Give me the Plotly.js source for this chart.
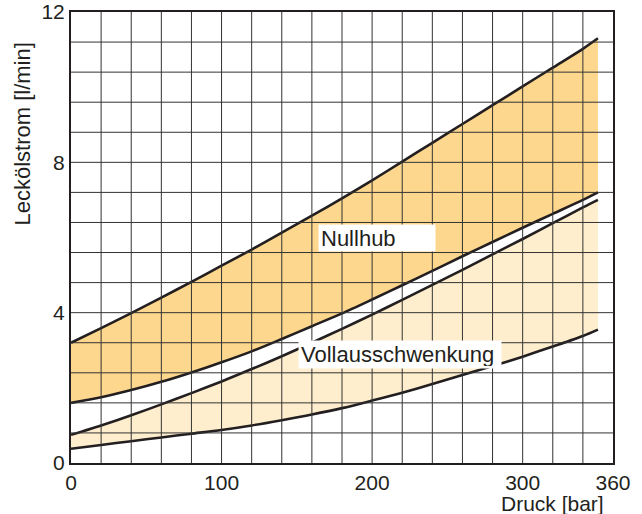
<!DOCTYPE html>
<html>
<head>
<meta charset="utf-8">
<script src="https://cdn.plot.ly/plotly-3.0.1.min.js"></script>
<style>html,body{margin:0;padding:0;background:#fff}#chart{width:642px;height:514px}</style>
</head>
<body>
<div id="chart"></div>
<script>
// Pressure (bar)
const druck = [0, 20, 40, 60, 80, 100, 120, 140, 160, 180, 200, 220, 240, 260, 280, 300, 320, 340, 350];
// Nullhub band (l/min)
const nullhubOben  = [3.2, 3.59, 3.99, 4.4, 4.82, 5.25, 5.68, 6.13, 6.58, 7.04, 7.52, 8.02, 8.52, 9.02, 9.52, 10.02, 10.52, 11.02, 11.3];
const nullhubUnten = [1.6, 1.75, 1.94, 2.16, 2.41, 2.68, 2.97, 3.3, 3.64, 3.98, 4.35, 4.73, 5.11, 5.5, 5.88, 6.26, 6.63, 7.0, 7.2];
// Vollausschwenkung band (l/min)
const vollOben  = [0.75, 1.0, 1.27, 1.56, 1.86, 2.17, 2.5, 2.84, 3.2, 3.57, 3.95, 4.34, 4.74, 5.14, 5.55, 5.96, 6.38, 6.8, 7.0];
const vollUnten = [0.38, 0.48, 0.58, 0.68, 0.78, 0.88, 1.0, 1.14, 1.29, 1.46, 1.66, 1.87, 2.1, 2.34, 2.58, 2.83, 3.1, 3.38, 3.55];

const xTickLabels = ['0', '100', '200', '300', '360'];
const xTickValsLabelled = [0, 100, 200, 300, 360];
const yTickLabels = ['0', '4', '8', '12'];
const yTickValsLabelled = [0, 4, 8, 12];

const labelNullhub = 'Nullhub';
const labelVoll = 'Vollausschwenkung';
const xTitle = 'Druck [bar]';
const yTitle = 'Leckölstrom [l/min]';

const FONT = 'Liberation Sans, Arial, Helvetica, sans-serif';
const FS = 21;
const FL = 22;
const lineStyle = {color: '#231f20', width: 2.6, shape: 'spline', smoothing: 0.8};

const traces = [
  {x: druck, y: nullhubUnten, mode: 'lines', line: lineStyle, hoverinfo: 'skip'},
  {x: druck, y: nullhubOben, mode: 'lines', line: lineStyle, fill: 'tonexty', fillcolor: '#FDD78D', hoverinfo: 'skip'},
  {x: druck, y: vollUnten, mode: 'lines', line: lineStyle, hoverinfo: 'skip'},
  {x: druck, y: vollOben, mode: 'lines', line: lineStyle, fill: 'tonexty', fillcolor: '#FEEECD', hoverinfo: 'skip'}
];

// grid drawn above the fills
const shapes = [];
for (let v = 20; v < 360; v += 20) {
  shapes.push({type: 'line', xref: 'x', yref: 'paper', x0: v, x1: v, y0: 0, y1: 1, layer: 'above',
               line: {color: '#333', width: 1}});
}
for (let k = 1; k < 15; k++) {
  const v = k * 0.8;
  shapes.push({type: 'line', xref: 'paper', yref: 'y', x0: 0, x1: 1, y0: v, y1: v, layer: 'above',
               line: {color: '#333', width: 1}});
}

const layout = {
  width: 642, height: 514,
  margin: {l: 71, r: 29, t: 12, b: 51},
  paper_bgcolor: '#fff', plot_bgcolor: '#fff',
  showlegend: false,
  font: {family: FONT, size: FS, color: '#231f20'},
  xaxis: {
    range: [0, 360], showgrid: false, zeroline: false,
    tickvals: xTickValsLabelled, ticktext: xTickLabels, ticks: '',
    showline: true, linecolor: '#231f20', linewidth: 2, mirror: true,
    tickfont: {family: FONT, size: FS, color: '#231f20'}, fixedrange: true
  },
  yaxis: {
    range: [0, 12], showgrid: false, zeroline: false,
    tickvals: yTickValsLabelled, ticktext: yTickLabels, ticks: '',
    showline: true, linecolor: '#231f20', linewidth: 2, mirror: true,
    tickfont: {family: FONT, size: FS, color: '#231f20'}, fixedrange: true
  },
  shapes: shapes,
  annotations: [
    {text: labelNullhub, xref: 'x', yref: 'y', x: 164, y: 6.0, xanchor: 'left', yanchor: 'middle',
     showarrow: false, bgcolor: '#fff', width: 112, height: 22, align: 'left', borderpad: 2,
     font: {family: FONT, size: FL, color: '#231f20'}},
    {text: labelVoll, xref: 'x', yref: 'y', x: 150.5, y: 2.88, xanchor: 'left', yanchor: 'middle',
     showarrow: false, bgcolor: '#fff', width: 198, height: 23, align: 'left', borderpad: 2,
     font: {family: FONT, size: FL, color: '#231f20'}},
    {text: xTitle, xref: 'paper', yref: 'paper', x: (606 - 71) / (613 - 71), y: 0, yshift: -40,
     xanchor: 'right', yanchor: 'middle', showarrow: false,
     font: {family: FONT, size: FS, color: '#231f20'}},
    {text: yTitle, xref: 'paper', yref: 'y', x: 0, xshift: -48, y: 8.74, textangle: -90,
     xanchor: 'center', yanchor: 'middle', showarrow: false,
     font: {family: FONT, size: FL, color: '#231f20'}}
  ]
};

Plotly.newPlot('chart', traces, layout, {displayModeBar: false, staticPlot: true});
</script>
</body>
</html>
